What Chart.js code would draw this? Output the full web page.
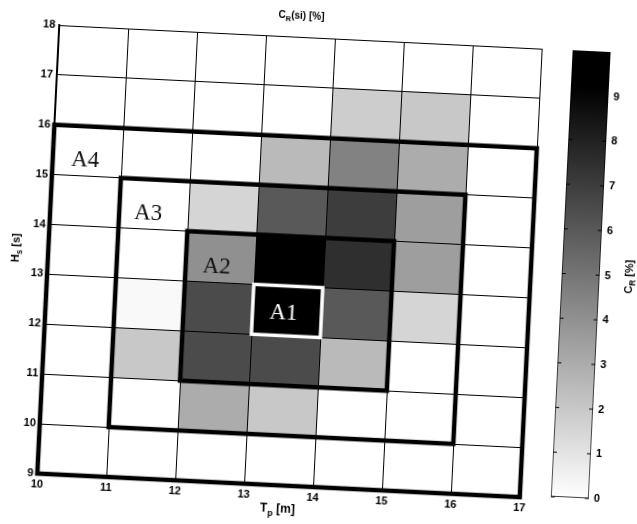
<!DOCTYPE html>
<html>
<head>
<meta charset="utf-8">
<script src="https://cdn.jsdelivr.net/npm/chart.js@4/dist/chart.umd.min.js"></script>
<style>
html, body { margin: 0; padding: 0; background: #fff; overflow: hidden; }
#page { position: relative; width: 637px; height: 524px; transform: rotate(2.8deg); transform-origin: 318px 262px; }
canvas { position: absolute; left: 0; top: 0; }
</style>
</head>
<body>
<div id="page">
  <canvas id="mainChart" width="637" height="524"></canvas>
  <canvas id="barChart" width="637" height="524"></canvas>
</div>
<script>
// bin edges: Tp along x, Hs along y
const tpEdges = [10, 11, 12, 13, 14, 15, 16, 17]
const hsEdges = [9, 10, 11, 12, 13, 14, 15, 16, 17, 18]
const tpTicks = [10, 11, 12, 13, 14, 15, 16, 17]
const hsTicks = [9, 10, 11, 12, 13, 14, 15, 16, 17, 18]
const cbTicks = [0, 1, 2, 3, 4, 5, 6, 7, 8, 9]

// C_R [%] per cell, one row per Hs bin (9-10 first), one value per Tp bin (10-11 first)
const crRows = [
  [0, 0, 0, 0, 0, 0, 0],
  [0, 0, 3, 2, 0, 0, 0],
  [0, 2, 6.5, 6.5, 2.5, 0, 0],
  [0, 0.2, 6.5, 10, 6, 1.5, 0],
  [0, 0, 4, 10, 7.5, 3.5, 0],
  [0, 0, 1.5, 6, 7, 3.5, 0],
  [0, 0, 0, 2.5, 4.5, 3, 0],
  [0, 0, 0, 0, 1.8, 2, 0],
  [0, 0, 0, 0, 0, 0, 0]
]

// nested areas A1..A4
const areaNames = ['A1', 'A2', 'A3', 'A4']
const areaTp = [[13, 14], [12, 15], [11, 16], [10, 17]]
const areaHs = [[12, 13], [11, 14], [10, 15], [9, 16]]
const labelTp = [13.45, 12.45, 11.42, 10.47]
const labelHs = [12.45, 13.31, 14.32, 15.32]

const cbMax = 10
const blackAt = 9.2

function grayFor(v) {
    let g = Math.round(255 * (1 - Math.min(v, blackAt) / blackAt))
    return 'rgb(' + g + ',' + g + ',' + g + ')'
}

// text with subscripts, parts = [[text, isSub], ...]
function drawSub(ctx, parts, x, y, size, angle) {
    ctx.save()
    ctx.translate(x, y)
    ctx.rotate(angle || 0)
    ctx.fillStyle = '#000'
    ctx.textBaseline = 'middle'
    ctx.textAlign = 'left'
    let total = 0
    parts.forEach(p => {
        ctx.font = 'bold ' + (p[1] ? size * 0.75 : size) + 'px "Liberation Sans", Arial, sans-serif'
        total += ctx.measureText(p[0]).width
    })
    let cx = -total / 2
    parts.forEach(p => {
        ctx.font = 'bold ' + (p[1] ? size * 0.75 : size) + 'px "Liberation Sans", Arial, sans-serif'
        ctx.fillText(p[0], cx, p[1] ? size * 0.35 : 0)
        cx += ctx.measureText(p[0]).width
    })
    ctx.restore()
}

const cellsPlugin = {
    id: 'cells',
    beforeDraw(chart) {
        const ctx = chart.ctx
        const xs = chart.scales.x
        const ys = chart.scales.y
        ctx.save()
        crRows.forEach((row, j) => {
            row.forEach((v, i) => {
                const x0 = xs.getPixelForValue(tpEdges[i])
                const x1 = xs.getPixelForValue(tpEdges[i + 1])
                const y0 = ys.getPixelForValue(hsEdges[j + 1])
                const y1 = ys.getPixelForValue(hsEdges[j])
                ctx.fillStyle = grayFor(v)
                ctx.fillRect(x0, y0, x1 - x0, y1 - y0)
            })
        })
        ctx.restore()
    },
    afterDraw(chart) {
        const ctx = chart.ctx
        const xs = chart.scales.x
        const ys = chart.scales.y
        ctx.save()
        areaNames.forEach((name, k) => {
            const x0 = xs.getPixelForValue(areaTp[k][0])
            const x1 = xs.getPixelForValue(areaTp[k][1])
            const y0 = ys.getPixelForValue(areaHs[k][1])
            const y1 = ys.getPixelForValue(areaHs[k][0])
            ctx.strokeStyle = k == 0 ? '#fff' : '#000'
            ctx.lineWidth = k == 0 ? 3.5 : 4.5
            ctx.strokeRect(x0, y0, x1 - x0, y1 - y0)
        })
        ctx.font = '23px "Liberation Serif", "Times New Roman", serif'
        ctx.textAlign = 'center'
        ctx.textBaseline = 'middle'
        areaNames.forEach((name, k) => {
            ctx.fillStyle = k == 0 ? '#fff' : '#111'
            ctx.fillText(name, xs.getPixelForValue(labelTp[k]), ys.getPixelForValue(labelHs[k]))
        })
        ctx.restore()

        const area = chart.chartArea
        drawSub(ctx, [['C', false], ['R', true], ['(si) [%]', false]], (area.left + area.right) / 2, 17, 10)
        drawSub(ctx, [['T', false], ['p', true], [' [m]', false]], (area.left + area.right) / 2, 511, 12)
        drawSub(ctx, [['H', false], ['s', true], [' [s]', false]], 16, (area.top + area.bottom) / 2, 11, -Math.PI / 2)
    }
}

const tickFont = { family: '"Liberation Sans", Arial, sans-serif', size: 11, weight: 'bold' }

new Chart(document.getElementById('mainChart'), {
    type: 'scatter',
    data: { datasets: [{ data: [] }] },
    options: {
        responsive: false,
        animation: false,
        layout: { padding: { left: 0, top: 38, right: 106, bottom: 0 } },
        plugins: { legend: { display: false }, tooltip: { enabled: false } },
        scales: {
            x: {
                type: 'linear',
                min: 10,
                max: 17,
                afterBuildTicks: s => { s.ticks = tpTicks.map(v => ({ value: v })) },
                afterFit: s => { s.height = 37 },
                grid: { color: '#000', lineWidth: 1, drawTicks: false },
                border: { color: '#000', width: 2 },
                ticks: { color: '#000', font: tickFont, padding: 4 }
            },
            y: {
                type: 'linear',
                min: 9,
                max: 18,
                afterBuildTicks: s => { s.ticks = hsTicks.map(v => ({ value: v })) },
                afterFit: s => { s.width = 48 },
                grid: { color: '#000', lineWidth: 1, drawTicks: false },
                border: { color: '#000', width: 2 },
                ticks: { color: '#000', font: tickFont, padding: 4 }
            }
        }
    },
    plugins: [cellsPlugin]
})

const barTicksPlugin = {
    id: 'barTicks',
    afterDraw(chart) {
        const ctx = chart.ctx
        const ys = chart.scales.y
        const area = chart.chartArea
        ctx.save()
        ctx.strokeStyle = '#000'
        ctx.lineWidth = 1
        cbTicks.forEach(v => {
            const py = ys.getPixelForValue(v)
            ctx.beginPath()
            ctx.moveTo(area.left, py)
            ctx.lineTo(area.left + 4, py)
            ctx.moveTo(area.right, py)
            ctx.lineTo(area.right - 4, py)
            ctx.stroke()
        })
        ctx.restore()
        drawSub(ctx, [['C', false], ['R', true], [' [%]', false]], 630, (area.top + area.bottom) / 2, 11, -Math.PI / 2)
    }
}

new Chart(document.getElementById('barChart'), {
    type: 'bar',
    data: {
        labels: ['CR'],
        datasets: [{
            data: [[0, cbMax]],
            backgroundColor: c => {
                const chart = c.chart
                if (!chart.chartArea) return '#888'
                const ys = chart.scales.y
                const g = chart.ctx.createLinearGradient(0, ys.getPixelForValue(0), 0, ys.getPixelForValue(cbMax))
                g.addColorStop(0, '#fff')
                g.addColorStop(blackAt / cbMax, '#000')
                g.addColorStop(1, '#000')
                return g
            },
            borderColor: '#000',
            borderWidth: 1,
            borderSkipped: false,
            barPercentage: 1,
            categoryPercentage: 1
        }]
    },
    options: {
        responsive: false,
        animation: false,
        layout: { padding: { left: 562, top: 38, right: 0, bottom: 39 } },
        plugins: { legend: { display: false }, tooltip: { enabled: false } },
        scales: {
            x: { display: false },
            y: {
                position: 'right',
                min: 0,
                max: cbMax,
                afterBuildTicks: s => { s.ticks = cbTicks.map(v => ({ value: v })) },
                afterFit: s => { s.width = 37 },
                grid: { display: false, drawTicks: false },
                border: { display: false },
                ticks: { color: '#000', font: tickFont, padding: 5 }
            }
        }
    },
    plugins: [barTicksPlugin]
})
</script>
</body>
</html>
